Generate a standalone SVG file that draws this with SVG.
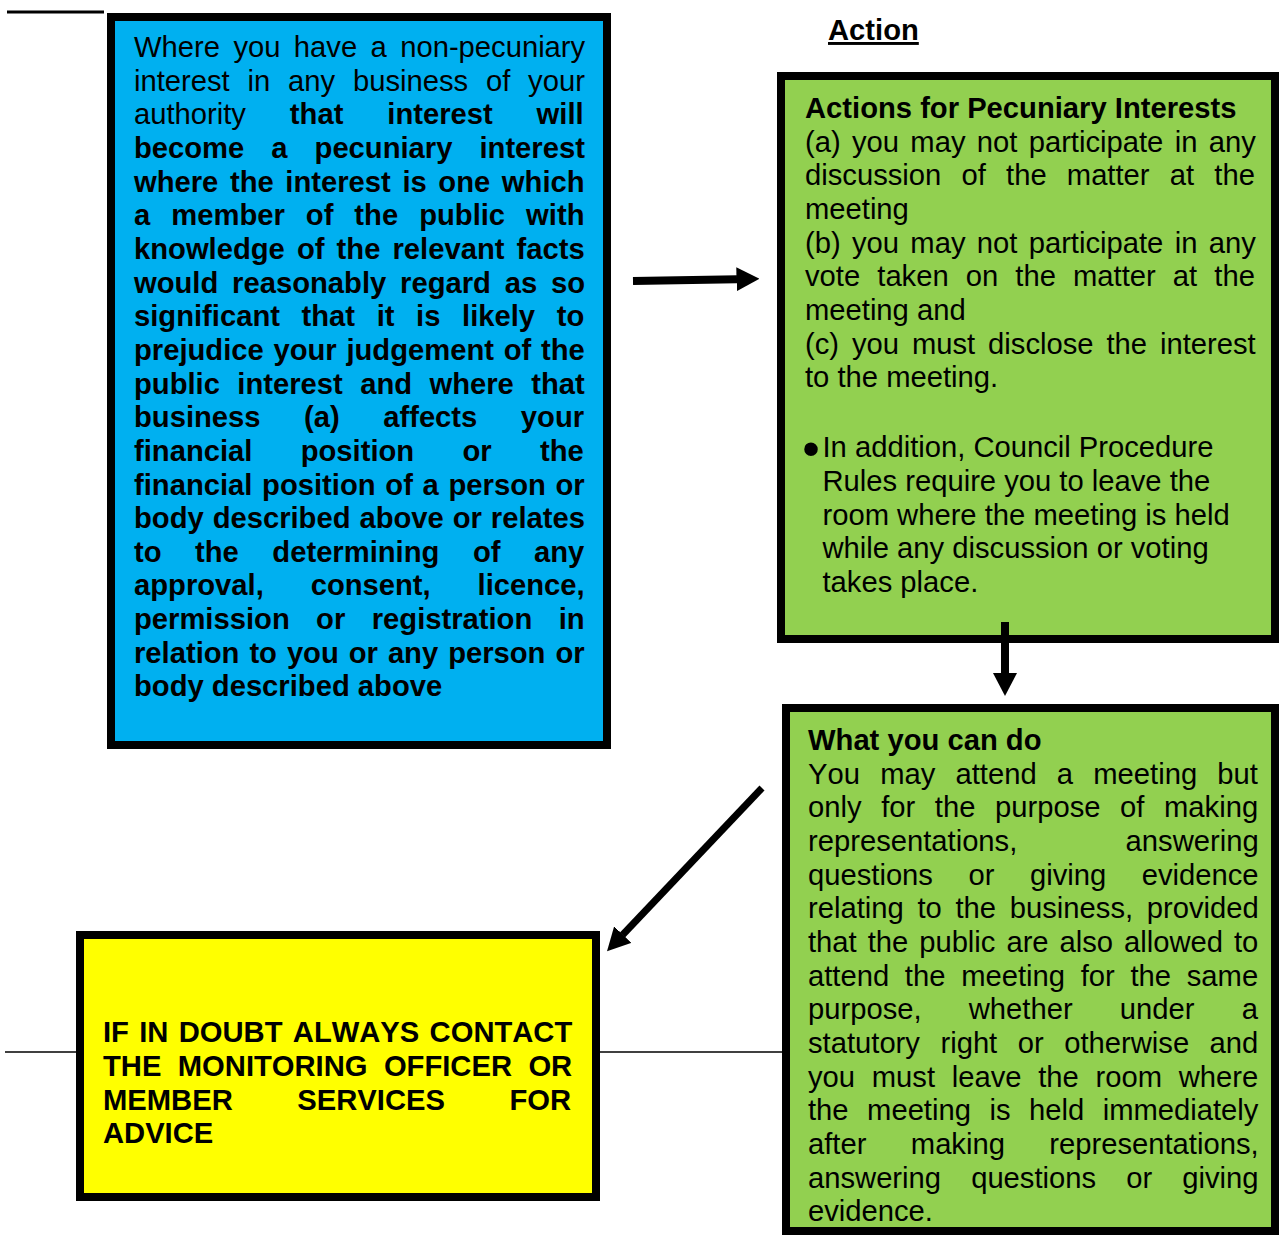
<svg xmlns="http://www.w3.org/2000/svg" width="1279" height="1235" viewBox="0 0 1279 1235">
<style>
text{font-family:"Liberation Sans",Arial,sans-serif;font-size:29.2px;fill:#000;font-kerning:none}
.b{font-weight:bold}
.box{stroke:#000;stroke-width:8}
.blue{fill:#00B0F0}
.green{fill:#92D050}
.yellow{fill:#FFFF00}
.arrow{stroke:#000;fill:none;stroke-linecap:butt}
.rule{stroke:#000;fill:none}
</style>
<defs>
<marker id="head" viewBox="0 0 23 24" refX="0.5" refY="12" markerWidth="23" markerHeight="24" markerUnits="userSpaceOnUse" orient="auto">
<path d="M0,0 L23,12 L0,24 Z" fill="#000"/>
</marker>
</defs>
<rect width="1279" height="1235" fill="#fff"/>

<g id="rules">
<line class="rule" x1="7" y1="12" x2="104" y2="12" stroke-width="3"/>
<line class="rule" x1="5" y1="1052" x2="76" y2="1052" stroke-width="1.5"/>
<line class="rule" x1="600" y1="1052" x2="782" y2="1052" stroke-width="1.5"/>
</g>

<g id="label-action">
<text x="828" y="40" class="b" text-decoration="underline">Action</text>
</g>

<g id="node-blue">
<rect class="box blue" x="111" y="17" width="496" height="728"/>
<text x="134" y="57" style="word-spacing:5.3px">Where you have a non-pecuniary</text>
<text x="134" y="90.7" style="word-spacing:9.7px">interest in any business of your</text>
<text x="134" y="124.3" style="word-spacing:35.8px">authority <tspan class="b">that interest will</tspan></text>
<text x="134" y="158" class="b" style="word-spacing:18.9px">become a pecuniary interest</text>
<text x="134" y="191.6" class="b" style="word-spacing:3.5px">where the interest is one which</text>
<text x="134" y="225.3" class="b" style="word-spacing:12.9px">a member of the public with</text>
<text x="134" y="258.9" class="b" style="word-spacing:4.0px">knowledge of the relevant facts</text>
<text x="134" y="292.6" class="b" style="word-spacing:5.7px">would reasonably regard as so</text>
<text x="134" y="326.2" class="b" style="word-spacing:13.5px">significant that it is likely to</text>
<text x="134" y="359.9" class="b" style="word-spacing:1.6px">prejudice your judgement of the</text>
<text x="134" y="393.5" class="b" style="word-spacing:9.3px">public interest and where that</text>
<text x="134" y="427.2" class="b" style="word-spacing:35.4px">business (a) affects your</text>
<text x="134" y="460.8" class="b" style="word-spacing:40.2px">financial position or the</text>
<text x="134" y="494.5" class="b" style="word-spacing:1.6px">financial position of a person or</text>
<text x="134" y="528.1" class="b" style="word-spacing:0.8px">body described above or relates</text>
<text x="134" y="561.8" class="b" style="word-spacing:25.4px">to the determining of any</text>
<text x="134" y="595.4" class="b" style="word-spacing:38.8px">approval, consent, licence,</text>
<text x="134" y="629.1" class="b" style="word-spacing:18.3px">permission or registration in</text>
<text x="134" y="662.7" class="b" style="word-spacing:1.85px">relation to you or any person or</text>
<text x="134" y="696.4" class="b">body described above</text>
</g>

<g id="node-green1">
<rect class="box green" x="781" y="76" width="494" height="563"/>
<text x="805" y="118" class="b">Actions for Pecuniary Interests</text>
<text x="805" y="151.7" style="word-spacing:3.2px">(a) you may not participate in any</text>
<text x="805" y="185.3" style="word-spacing:12.1px">discussion of the matter at the</text>
<text x="805" y="219">meeting</text>
<text x="805" y="252.6" style="word-spacing:3.2px">(b) you may not participate in any</text>
<text x="805" y="286.3" style="word-spacing:9.0px">vote taken on the matter at the</text>
<text x="805" y="319.9">meeting and</text>
<text x="805" y="353.6" style="word-spacing:4.8px">(c) you must disclose the interest</text>
<text x="805" y="387.2">to the meeting.</text>
<text x="802.3" y="465.5" style="font-size:50px">•</text>
<text x="822.5" y="457.3">In addition, Council Procedure</text>
<text x="822.5" y="491">Rules require you to leave the</text>
<text x="822.5" y="524.6">room where the meeting is held</text>
<text x="822.5" y="558.3">while any discussion or voting</text>
<text x="822.5" y="591.9">takes place.</text>
</g>

<g id="node-green2">
<rect class="box green" x="786" y="708" width="489" height="523"/>
<text x="808" y="750" class="b">What you can do</text>
<text x="808" y="783.7" style="word-spacing:12.1px">You may attend a meeting but</text>
<text x="808" y="817.3" style="word-spacing:11.5px">only for the purpose of making</text>
<text x="808" y="851" style="word-spacing:100.2px">representations, answering</text>
<text x="808" y="884.6" style="word-spacing:27.4px">questions or giving evidence</text>
<text x="808" y="918.3" style="word-spacing:5.6px">relating to the business, provided</text>
<text x="808" y="951.9" style="word-spacing:2.85px">that the public are also allowed to</text>
<text x="808" y="985.6" style="word-spacing:7.6px">attend the meeting for the same</text>
<text x="808" y="1019.2" style="word-spacing:39.1px">purpose, whether under a</text>
<text x="808" y="1052.9" style="word-spacing:12.4px">statutory right or otherwise and</text>
<text x="808" y="1086.5" style="word-spacing:8.6px">you must leave the room where</text>
<text x="808" y="1120.2" style="word-spacing:10.4px">the meeting is held immediately</text>
<text x="808" y="1153.8" style="word-spacing:36.3px">after making representations,</text>
<text x="808" y="1187.5" style="word-spacing:22.0px">answering questions or giving</text>
<text x="808" y="1221.1">evidence.</text>
</g>

<g id="node-yellow">
<rect class="box yellow" x="80" y="935" width="516" height="262"/>
<text x="103" y="1042.3" class="b" style="word-spacing:2.2px">IF IN DOUBT ALWAYS CONTACT</text>
<text x="103" y="1076" class="b" style="word-spacing:8.3px">THE MONITORING OFFICER OR</text>
<text x="103" y="1109.6" class="b" style="word-spacing:56.5px">MEMBER SERVICES FOR</text>
<text x="103" y="1143.3" class="b">ADVICE</text>
</g>

<g id="connectors">
<line class="arrow" x1="633" y1="281" x2="737" y2="279.2" stroke-width="8" marker-end="url(#head)"/>
<line class="arrow" x1="1005" y1="622" x2="1005" y2="673.5" stroke-width="8" marker-end="url(#head)"/>
<line class="arrow" x1="762" y1="788" x2="622.5" y2="935" stroke-width="7" marker-end="url(#head)"/>
</g>
</svg>
